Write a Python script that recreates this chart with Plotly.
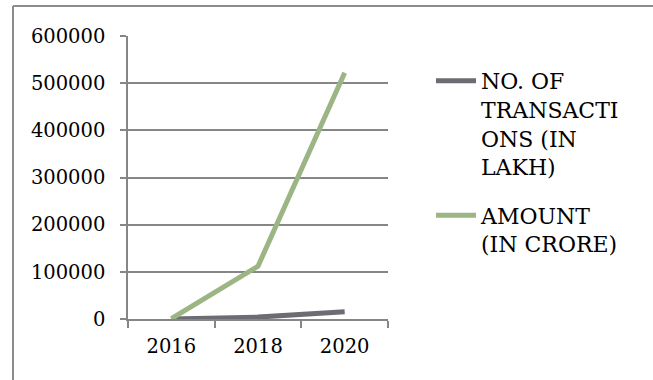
import plotly.graph_objects as go

# Data
years = ["2016", "2018", "2020"]
transactions_lakh = [20, 4000, 15500]
amount_crore = [700, 112000, 522000]
y_ticks = [0, 100000, 200000, 300000, 400000, 500000, 600000]

W, H = 653, 380
L, R, T, B = 128, 265, 36, 61

FONT = "DejaVu Serif"

fig = go.Figure()
fig.add_trace(go.Scatter(
    x=years, y=transactions_lakh, mode="lines",
    name="NO. OF<br>TRANSACTI<br>ONS (IN<br>LAKH)", legendgroup="a",
    line=dict(color="#6C6C72", width=5),
))
fig.add_trace(go.Scatter(
    x=years, y=amount_crore, mode="lines",
    name="AMOUNT<br>(IN CRORE)", legendgroup="b",
    line=dict(color="#9CB584", width=5),
))

# chart-area frame (left and top edges)
frame = dict(type="line", xref="paper", yref="paper",
             line=dict(color="#8C8C8C", width=2), layer="below")
x0 = (13 - L) / (W - L - R)
y0 = (H - B - 6) / (H - T - B)
ybot = (H - B - H) / (H - T - B)
fig.add_shape(x0=x0, x1=(W - L) / (W - L - R), y0=y0, y1=y0, **frame)
fig.add_shape(x0=x0, x1=x0, y0=y0, y1=ybot, **frame)

fig.update_layout(
    width=W, height=H,
    margin=dict(l=L, r=R, t=T, b=B, pad=0),
    paper_bgcolor="white", plot_bgcolor="white",
    font=dict(family=FONT, size=20, color="black"),
    showlegend=True,
    legend=dict(
        x=(431 - L) / (W - L - R), xanchor="left",
        y=(H - B - 60) / (H - T - B), yanchor="top",
        valign="top", font=dict(family=FONT, size=22, color="black"),
        traceorder="grouped", tracegroupgap=17,
        itemwidth=40, bgcolor="rgba(0,0,0,0)",
    ),
    xaxis=dict(
        type="category", range=[-0.5, 2.5],
        showline=True, linecolor="#868686", linewidth=1.5,
        ticks="outside", tickson="boundaries", ticklen=7,
        tickcolor="#868686", tickwidth=1.5,
        showgrid=False, zeroline=False, ticklabelstandoff=9,
        tickfont=dict(family=FONT, size=19.5),
    ),
    yaxis=dict(
        range=[0, 600000], tickvals=y_ticks,
        ticktext=[str(v) for v in y_ticks],
        showline=True, linecolor="#868686", linewidth=1.5,
        ticks="outside", ticklen=6, tickcolor="#868686", tickwidth=1.5,
        showgrid=True, gridcolor="#868686", gridwidth=1.5,
        zeroline=False, ticklabelstandoff=11,
        tickfont=dict(family=FONT, size=19.5),
    ),
)

fig.write_html("out.html")
